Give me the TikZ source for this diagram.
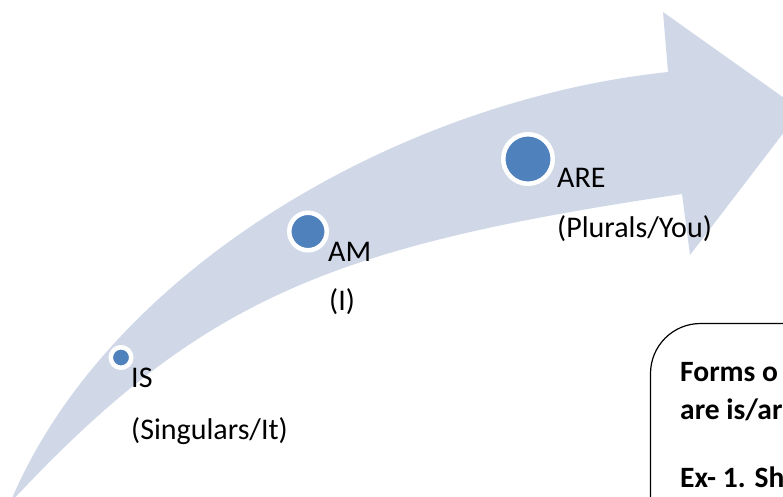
\documentclass[tikz,border=0pt]{standalone}
\usepackage{fontspec}
\setmainfont{Carlito}
\definecolor{arrowfill}{HTML}{D0D8E8}
\definecolor{dotblue}{HTML}{4F81BD}
\begin{document}
\begin{tikzpicture}[x=1pt,y=-1pt,
  dot/.style={circle, fill=dotblue, draw=white, line width=4.5pt, inner sep=0pt},
  lbl/.style={anchor=base west, inner sep=0pt, font=\fontsize{30}{36}\selectfont},
  boxtxt/.style={anchor=base west, inner sep=0pt, font=\fontsize{29.5}{34}\selectfont\bfseries}]
\useasboundingbox (0,0) rectangle (783,496);
\clip (0,0) rectangle (783,496);

% curved up-arrow
\fill[arrowfill] (10,503) .. controls (107,270) and (400,100) .. (668,72)
  -- (663,12) -- (801,110) -- (690,255) -- (682,194)
  .. controls (332,246) and (202,297) .. (10,503) -- cycle;

% milestones on the arrow
\node[dot, minimum size=20.5pt] (is)  at (121,357.5) {};
\node[dot, minimum size=37.5pt] (am)  at (308,231.5) {};
\node[dot, minimum size=49.5pt] (are) at (528,159) {};

\node[lbl] (isl)    at (131,387) {IS};
\node[lbl] (issub)  at (131,439) {(Singulars/It)};
\node[lbl] (aml)    at (328,261) {AM};
\node[lbl] (amsub)  at (329,310) {(I)};
\node[lbl] (arel)   at (557,187) {ARE};
\node[lbl] (aresub) at (557,237) {(Plurals/You)};

% note box
\draw[line width=1.2pt, rounded corners=50pt] (900,650) -- (650.5,650) -- (650.5,323.5) -- (900,323.5);
\node[boxtxt] (b1) at (680,381) {Forms o};
\node[boxtxt] (b2) at (680,419) {are is/ar};
\node[boxtxt] (b3) at (680,487) {Ex- 1. Sh};
\end{tikzpicture}
\end{document}
